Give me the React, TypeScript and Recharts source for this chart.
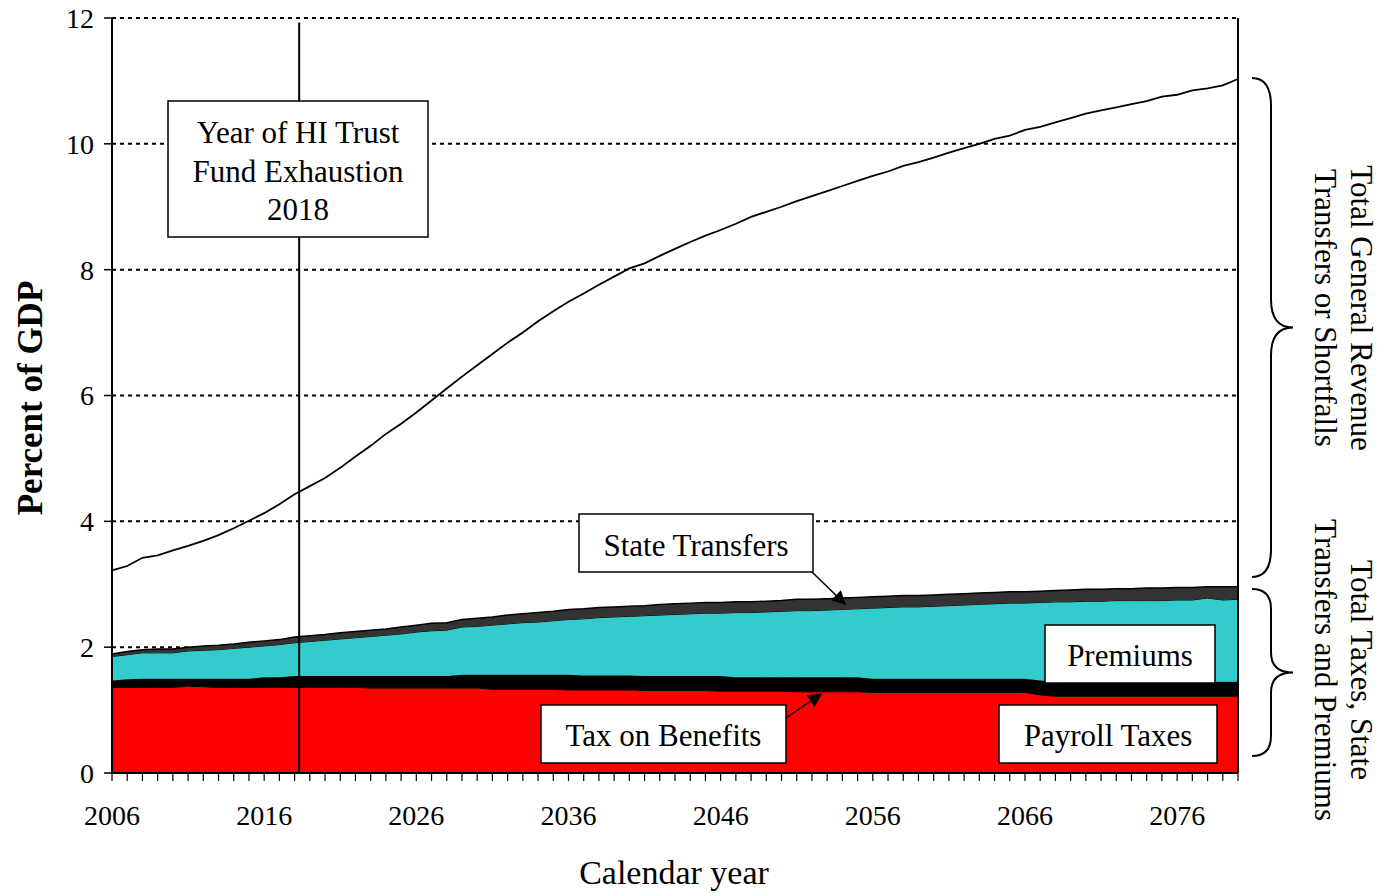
import React from "react";
import {
  ComposedChart,
  Area,
  Line,
  XAxis,
  YAxis,
  CartesianGrid,
  ReferenceLine,
} from "recharts";

const years = [
  2006, 2007, 2008, 2009, 2010, 2011, 2012, 2013, 2014, 2015,
  2016, 2017, 2018, 2019, 2020, 2021, 2022, 2023, 2024, 2025,
  2026, 2027, 2028, 2029, 2030, 2031, 2032, 2033, 2034, 2035,
  2036, 2037, 2038, 2039, 2040, 2041, 2042, 2043, 2044, 2045,
  2046, 2047, 2048, 2049, 2050, 2051, 2052, 2053, 2054, 2055,
  2056, 2057, 2058, 2059, 2060, 2061, 2062, 2063, 2064, 2065,
  2066, 2067, 2068, 2069, 2070, 2071, 2072, 2073, 2074, 2075,
  2076, 2077, 2078, 2079, 2080,
];

const yearLabels = [2006, 2016, 2026, 2036, 2046, 2056, 2066, 2076];
const pctTicks = [0, 2, 4, 6, 8, 10, 12];

// percent of GDP, one value per year
const payrollTaxes = [
  1.36, 1.36, 1.36, 1.36, 1.36, 1.38, 1.37, 1.36, 1.36, 1.36,
  1.36, 1.36, 1.36, 1.36, 1.36, 1.36, 1.36, 1.35, 1.35, 1.35,
  1.35, 1.35, 1.35, 1.35, 1.35, 1.33, 1.33, 1.33, 1.33, 1.33,
  1.32, 1.32, 1.32, 1.32, 1.32, 1.31, 1.31, 1.31, 1.31, 1.31,
  1.30, 1.30, 1.30, 1.30, 1.30, 1.29, 1.29, 1.29, 1.29, 1.29,
  1.28, 1.28, 1.28, 1.28, 1.28, 1.28, 1.28, 1.28, 1.28, 1.28,
  1.28, 1.24, 1.22, 1.22, 1.22, 1.22, 1.22, 1.22, 1.22, 1.22,
  1.22, 1.22, 1.22, 1.22, 1.22,
];

const taxOnBenefits = [
  0.11, 0.13, 0.14, 0.14, 0.14, 0.12, 0.13, 0.14, 0.14, 0.14,
  0.16, 0.16, 0.18, 0.18, 0.18, 0.18, 0.18, 0.19, 0.19, 0.19,
  0.19, 0.19, 0.19, 0.21, 0.21, 0.23, 0.23, 0.23, 0.23, 0.23,
  0.24, 0.23, 0.23, 0.23, 0.23, 0.23, 0.23, 0.23, 0.23, 0.23,
  0.24, 0.22, 0.22, 0.22, 0.22, 0.23, 0.23, 0.23, 0.23, 0.23,
  0.22, 0.22, 0.22, 0.22, 0.22, 0.22, 0.22, 0.22, 0.22, 0.22,
  0.22, 0.23, 0.23, 0.23, 0.23, 0.23, 0.23, 0.23, 0.23, 0.23,
  0.23, 0.23, 0.23, 0.23, 0.23,
];

const premiums = [
  0.38, 0.39, 0.41, 0.41, 0.41, 0.44, 0.45, 0.46, 0.48, 0.50,
  0.50, 0.52, 0.53, 0.55, 0.57, 0.59, 0.61, 0.63, 0.65, 0.67,
  0.70, 0.72, 0.73, 0.76, 0.77, 0.79, 0.81, 0.83, 0.84, 0.86,
  0.88, 0.90, 0.92, 0.93, 0.94, 0.96, 0.97, 0.98, 0.99, 1.00,
  1.00, 1.03, 1.03, 1.04, 1.05, 1.06, 1.06, 1.07, 1.08, 1.09,
  1.12, 1.13, 1.14, 1.14, 1.15, 1.16, 1.17, 1.18, 1.19, 1.20,
  1.20, 1.24, 1.27, 1.27, 1.28, 1.28, 1.29, 1.29, 1.29, 1.29,
  1.30, 1.30, 1.33, 1.30, 1.31,
];

const stateTransfers = [
  0.04, 0.05, 0.05, 0.06, 0.06, 0.06, 0.07, 0.07, 0.07, 0.08,
  0.08, 0.08, 0.09, 0.09, 0.09, 0.10, 0.10, 0.10, 0.10, 0.11,
  0.11, 0.12, 0.12, 0.12, 0.13, 0.13, 0.14, 0.14, 0.15, 0.15,
  0.16, 0.16, 0.16, 0.16, 0.16, 0.16, 0.17, 0.17, 0.17, 0.17,
  0.17, 0.17, 0.17, 0.17, 0.17, 0.18, 0.18, 0.18, 0.18, 0.18,
  0.18, 0.18, 0.18, 0.18, 0.18, 0.18, 0.18, 0.18, 0.18, 0.18,
  0.18, 0.18, 0.18, 0.19, 0.19, 0.19, 0.19, 0.19, 0.20, 0.20,
  0.20, 0.20, 0.18, 0.21, 0.20,
];

// total HI expenditures
const totalCost = [
  3.22, 3.29, 3.42, 3.46, 3.54, 3.61, 3.69, 3.78, 3.89, 4.01,
  4.13, 4.27, 4.43, 4.56, 4.69, 4.85, 5.03, 5.20, 5.39, 5.55,
  5.73, 5.92, 6.11, 6.30, 6.48, 6.66, 6.84, 7.00, 7.18, 7.34,
  7.49, 7.62, 7.76, 7.89, 8.02, 8.10, 8.22, 8.33, 8.44, 8.54,
  8.63, 8.73, 8.84, 8.92, 9.00, 9.09, 9.17, 9.25, 9.33, 9.41,
  9.49, 9.56, 9.65, 9.71, 9.78, 9.86, 9.93, 10.00, 10.08, 10.13,
  10.22, 10.27, 10.34, 10.41, 10.48, 10.53, 10.58, 10.63, 10.68, 10.75,
  10.78, 10.85, 10.88, 10.93, 11.03,
];

const data = years.map((year, i) => ({
  year,
  payroll: payrollTaxes[i],
  tob: taxOnBenefits[i],
  premiums: premiums[i],
  state: stateTransfers[i],
  cost: totalCost[i],
}));

const FONT = "'Liberation Serif', 'Times New Roman', serif";

function brace(x0: number, xm: number, xt: number, y0: number, y1: number, r: number) {
  const ym = (y0 + y1) / 2;
  return `M ${x0} ${y0} Q ${xm} ${y0} ${xm} ${y0 + r} L ${xm} ${ym - r} Q ${xm} ${ym} ${xt} ${ym} Q ${xm} ${ym} ${xm} ${ym + r} L ${xm} ${y1 - r} Q ${xm} ${y1} ${x0} ${y1}`;
}

function Box({ x, y, w, h, lines, cy }: { x: number; y: number; w: number; h: number; lines: string[]; cy: number[] }) {
  return (
    <g>
      <rect x={x} y={y} width={w} height={h} fill="#fff" stroke="#000" strokeWidth={1.5} />
      {lines.map((t, i) => (
        <text key={t} x={x + w / 2} y={cy[i]} textAnchor="middle" dominantBaseline="central" fontSize={31} fontFamily={FONT}>
          {t}
        </text>
      ))}
    </g>
  );
}

export default function App() {
  return (
    <div style={{ position: "absolute", left: 0, top: 0, width: 1388, height: 894, background: "#fff" }}>
      <ComposedChart
        width={1388}
        height={894}
        data={data}
        margin={{ top: 18, right: 150, bottom: 0, left: 0 }}
      >
        <CartesianGrid vertical={false} stroke="#000" strokeWidth={2} strokeDasharray="4 4" />
        <XAxis
          dataKey="year"
          type="number"
          domain={[2006, 2080]}
          ticks={years}
          interval={0}
          tickFormatter={(v) => (yearLabels.includes(v) ? String(v) : "")}
          height={121}
          tickSize={8}
          tickMargin={24}
          axisLine={{ stroke: "#000", strokeWidth: 2 }}
          tickLine={{ stroke: "#000", strokeWidth: 1.2 }}
          tick={{ fontSize: 28, fill: "#000", fontFamily: FONT }}
        />
        <YAxis
          domain={[0, 12]}
          ticks={pctTicks}
          width={112}
          tickSize={8}
          tickMargin={10}
          axisLine={{ stroke: "#000", strokeWidth: 2 }}
          tickLine={{ stroke: "#000", strokeWidth: 1.5 }}
          tick={{ fontSize: 28, fill: "#000", fontFamily: FONT }}
        />
        <Area type="linear" dataKey="payroll" stackId="rev" fill="#ff0000" fillOpacity={1} stroke="#000" strokeWidth={1} isAnimationActive={false} />
        <Area type="linear" dataKey="tob" stackId="rev" fill="#000000" fillOpacity={1} stroke="#000" strokeWidth={1} isAnimationActive={false} />
        <Area type="linear" dataKey="premiums" stackId="rev" fill="#33cccc" fillOpacity={1} stroke="#000" strokeWidth={1} isAnimationActive={false} />
        <Area type="linear" dataKey="state" stackId="rev" fill="#333333" fillOpacity={1} stroke="#000" strokeWidth={1.5} isAnimationActive={false} />
        <Line type="linear" dataKey="cost" stroke="#000" strokeWidth={1.8} dot={false} isAnimationActive={false} />
        <ReferenceLine x={2080} stroke="#000" strokeWidth={2} />
        <ReferenceLine
          segment={[
            { x: 2018.3, y: 11.93 },
            { x: 2018.3, y: 0 },
          ]}
          stroke="#000"
          strokeWidth={2}
        />
      </ComposedChart>

      <svg
        width={1388}
        height={894}
        style={{ position: "absolute", left: 0, top: 0, pointerEvents: "none" }}
      >
        <defs>
          <marker id="arrow" viewBox="0 0 10 10" refX="9" refY="5" markerWidth="16" markerHeight="14" markerUnits="userSpaceOnUse" orient="auto">
            <path d="M0,0 L10,5 L0,10 z" fill="#000" />
          </marker>
        </defs>

        <Box x={168} y={101} w={260} h={136} lines={["Year of HI Trust", "Fund Exhaustion", "2018"]} cy={[132, 171, 209]} />
        <Box x={579} y={514} w={234} h={58} lines={["State Transfers"]} cy={[545]} />
        <Box x={1045} y={625} w={170} h={58} lines={["Premiums"]} cy={[655]} />
        <Box x={541} y={705} w={245} h={58} lines={["Tax on Benefits"]} cy={[735]} />
        <Box x={999} y={705} w={218} h={58} lines={["Payroll Taxes"]} cy={[735]} />

        <line x1={812} y1={572} x2={845} y2={604} stroke="#000" strokeWidth={1.5} markerEnd="url(#arrow)" />
        <line x1={786} y1={718} x2={821} y2={694} stroke="#000" strokeWidth={1.5} markerEnd="url(#arrow)" />

        <path d={brace(1252, 1271, 1293, 78, 577, 28)} fill="none" stroke="#000" strokeWidth={2} />
        <path d={brace(1252, 1271, 1293, 589, 756, 20)} fill="none" stroke="#000" strokeWidth={2} />

        <g fontFamily={FONT} fontSize={31} fill="#000">
          <text transform="translate(1361,308) rotate(90)" textAnchor="middle" dominantBaseline="central">Total General Revenue</text>
          <text transform="translate(1325,308) rotate(90)" textAnchor="middle" dominantBaseline="central">Transfers or Shortfalls</text>
          <text transform="translate(1361,670) rotate(90)" textAnchor="middle" dominantBaseline="central">Total Taxes, State</text>
          <text transform="translate(1325,670) rotate(90)" textAnchor="middle" dominantBaseline="central">Transfers and Premiums</text>
        </g>

        <text x={30} y={398} transform="rotate(-90, 30, 398)" textAnchor="middle" dominantBaseline="central" fontFamily={FONT} fontSize={35} fontWeight="bold">
          Percent of GDP
        </text>
        <text x={674} y={872} textAnchor="middle" dominantBaseline="central" fontFamily={FONT} fontSize={34}>
          Calendar year
        </text>
      </svg>
    </div>
  );
}
